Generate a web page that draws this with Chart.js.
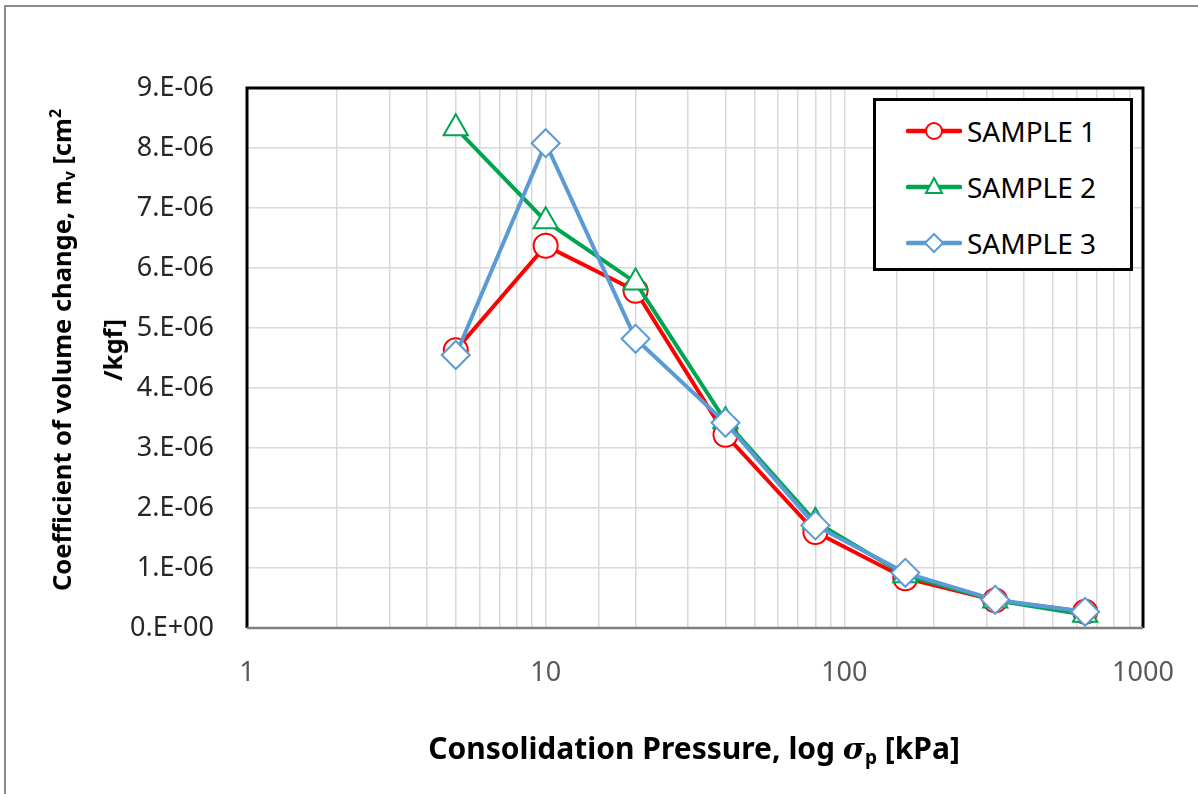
<!DOCTYPE html>
<html>
<head>
<meta charset="utf-8">
<script src="https://cdn.jsdelivr.net/npm/chart.js@4/dist/chart.umd.min.js"></script>
<style>
  html, body { margin: 0; padding: 0; background: #fff; }
  #wrap { position: relative; width: 1198px; height: 794px; overflow: hidden; font-family: "Noto Sans", sans-serif; }
  #frame { position: absolute; left: 4px; top: 5px; width: 1300px; height: 900px; border-left: 2px solid #8c8c8c; border-top: 2px solid #8c8c8c; }
  canvas { position: absolute; left: 0; top: 0; }
  .ytitle { position: absolute; font-weight: bold; font-size: 25.5px; color: #000; white-space: nowrap; transform: translate(-50%, -50%) rotate(-90deg); }
  .ytitle sub { font-size: 16px; vertical-align: -4px; }
  .ytitle sup { font-size: 16px; vertical-align: 10px; }
  .xtitle { position: absolute; left: 694px; top: 748px; font-weight: bold; font-size: 30px; color: #000; white-space: nowrap; transform: translate(-50%, -50%); }
  .xtitle sub { font-size: 19px; vertical-align: -5px; }
  .xtitle i { font-family: "DejaVu Serif", serif; font-weight: bold; }
  #legend { position: absolute; left: 873px; top: 98px; width: 254px; height: 167px; border: 3px solid #000; background: #fff; }
  .row { position: absolute; left: 30px; height: 40px; display: flex; align-items: center; font-size: 28px; color: #000; }
  .row svg { margin-right: 5px; }
</style>
</head>
<body>
<div id="wrap">
  <div id="frame"></div>
  <canvas id="chart" width="1198" height="794"></canvas>
  <div class="ytitle" style="left:62px; top:350px;">Coefficient of volume change, m<sub>v</sub> [cm<sup>2</sup></div>
  <div class="ytitle" style="left:112px; top:350px;">/kgf]</div>
  <div class="xtitle">Consolidation Pressure, log <i>σ</i><sub>p</sub> [kPa]</div>
  <div id="legend"></div>
</div>
<script>
// consolidation test - coefficient of volume change vs pressure

const pressure = [5, 10, 20, 40, 80, 160, 320, 640];
const sample1 = [4.63e-6, 6.37e-6, 5.62e-6, 3.22e-6, 1.60e-6, 0.83e-6, 0.46e-6, 0.27e-6];
const sample2 = [8.33e-6, 6.78e-6, 5.76e-6, 3.45e-6, 1.77e-6, 0.88e-6, 0.46e-6, 0.22e-6];
const sample3 = [4.55e-6, 8.08e-6, 4.82e-6, 3.42e-6, 1.71e-6, 0.92e-6, 0.47e-6, 0.27e-6];
const seriesNames = ['SAMPLE 1', 'SAMPLE 2', 'SAMPLE 3'];

const colors = ['#ff0000', '#00a550', '#5b9bd5'];
const markers = ['circle', 'triangle', 'rectRot'];

function toPoints(values) {
    return pressure.map((p, i) => ({ x: p, y: values[i] }));
}

// Excel style "0.E+00" labels
function sciLabel(v) {
    if (Math.abs(v) < 1e-12) return '0.E+00';
    const parts = v.toExponential(0).split('e');
    const n = parseInt(parts[1], 10);
    return parts[0] + '.E' + (n < 0 ? '-' : '+') + String(Math.abs(n)).padStart(2, '0');
}

// plot frame: black left/top/right, grey bottom
const frame = {
    id: 'frame',
    beforeDatasetsDraw(chart) {
        const a = chart.chartArea;
        const c = chart.ctx;
        c.save();
        c.strokeStyle = '#000';
        c.lineWidth = 3;
        c.beginPath();
        c.moveTo(a.left, a.bottom);
        c.lineTo(a.left, a.top);
        c.lineTo(a.right, a.top);
        c.lineTo(a.right, a.bottom);
        c.stroke();
        c.strokeStyle = '#7f7f7f';
        c.lineWidth = 2.5;
        c.beginPath();
        c.moveTo(a.left, a.bottom);
        c.lineTo(a.right, a.bottom);
        c.stroke();
        c.restore();
    }
};

const datasets = [sample1, sample2, sample3].map((vals, i) => ({
    label: seriesNames[i],
    data: toPoints(vals),
    borderColor: colors[i],
    backgroundColor: '#fff',
    borderWidth: 4,
    pointStyle: markers[i],
    pointRadius: i === 0 ? 12 : 14,
    pointBorderWidth: 2,
    pointBorderColor: colors[i],
    pointBackgroundColor: '#fff',
    tension: 0,
    clip: false,
    order: 3 - i
}));

new Chart(document.getElementById('chart').getContext('2d'), {
    type: 'line',
    data: { datasets: datasets },
    options: {
        responsive: false,
        animation: false,
        layout: { padding: { left: 0, right: 55, top: 88, bottom: 0 } },
        plugins: {
            legend: { display: false },
            tooltip: { enabled: false }
        },
        scales: {
            x: {
                type: 'logarithmic',
                min: 1,
                max: 1000,
                border: { display: false },
                grid: { color: '#d9d9d9', lineWidth: 1.5, drawTicks: false },
                ticks: {
                    autoSkip: false,
                    maxRotation: 0,
                    padding: 29,
                    color: '#595959',
                    font: { family: 'Noto Sans', size: 27 },
                    callback: v => {
                        const l = Math.log10(v);
                        return Math.abs(l - Math.round(l)) < 1e-9 ? String(Math.round(v)) : '';
                    }
                },
                afterFit: s => {
                    s.height = 166;
                    s.paddingLeft = 0;
                    s.paddingRight = 0;
                }
            },
            y: {
                min: 0,
                max: 9e-6,
                border: { display: false },
                grid: { color: '#d9d9d9', lineWidth: 1.5, drawTicks: false },
                ticks: {
                    stepSize: 1e-6,
                    padding: 33,
                    color: '#262626',
                    font: { family: 'Noto Sans', size: 27 },
                    callback: v => sciLabel(v)
                },
                afterFit: s => {
                    s.width = 247;
                    s.paddingTop = 0;
                    s.paddingBottom = 0;
                }
            }
        }
    },
    plugins: [frame]
});

// legend with line + marker icons
function legendIcon(i) {
    const c = colors[i];
    let m = '';
    if (markers[i] === 'circle') m = `<circle cx="28" cy="12" r="8" fill="#fff" stroke="${c}" stroke-width="2"/>`;
    if (markers[i] === 'triangle') m = `<polygon points="28,3 36,18 20,18" fill="#fff" stroke="${c}" stroke-width="2"/>`;
    if (markers[i] === 'rectRot') m = `<polygon points="28,3 37,12 28,21 19,12" fill="#fff" stroke="${c}" stroke-width="2"/>`;
    return `<svg width="56" height="24"><line x1="2" y1="12" x2="54" y2="12" stroke="${c}" stroke-width="4.5" stroke-linecap="round"/>${m}</svg>`;
}
const legend = document.getElementById('legend');
seriesNames.forEach((name, i) => {
    const row = document.createElement('div');
    row.className = 'row';
    row.style.top = (10 + i * 56) + 'px';
    row.innerHTML = legendIcon(i) + '<span>' + name + '</span>';
    legend.appendChild(row);
});
</script>
</body>
</html>
